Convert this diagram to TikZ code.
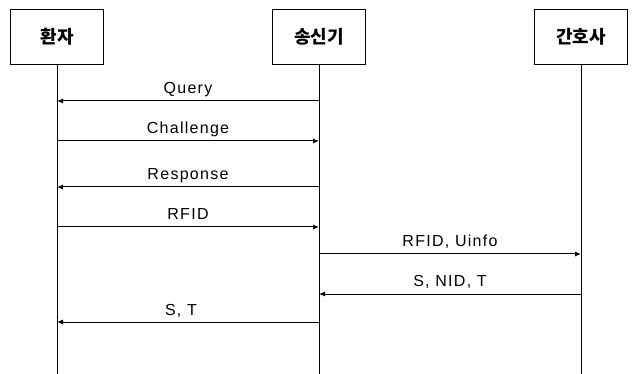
\documentclass[tikz,border=0pt]{standalone}
\usepackage{fontspec}
\setmainfont{Noto Sans CJK KR}
\newfontfamily\labelfont[LetterSpace=8]{Liberation Sans}
\usetikzlibrary{positioning}
\usetikzlibrary{arrows.meta}

\begin{document}
\begin{tikzpicture}[x=1pt,y=-1pt,
        actor/.style={draw=black, line width=1.1pt, minimum width=93pt,
            minimum height=55pt, inner sep=0pt, font=\fontsize{18}{21}\selectfont\bfseries},
        lifeline/.style={draw=black, line width=1pt},
        msg/.style={draw=black, line width=1pt, -{Latex[length=6pt,width=5pt]}},
        msglabel/.style={midway, anchor=base, yshift=7pt, inner sep=0pt,
            font=\labelfont\fontsize{16}{18}\selectfont}
    ]
    \useasboundingbox (0,0) rectangle (632,374);

    % participants
    \node[actor] (patient) at (57,37) {환자};
    \node[actor] (sender) at (319,37) {송신기};
    \node[actor] (nurse) at (581,37) {간호사};

    % lifelines
    \coordinate (patientend) at (patient.south |- 0,374);
    \coordinate (senderend) at (sender.south |- 0,374);
    \coordinate (nurseend) at (nurse.south |- 0,374);
    \draw[lifeline] (patient) -- (patientend);
    \draw[lifeline] (sender) -- (senderend);
    \draw[lifeline] (nurse) -- (nurseend);

    % message points
    \coordinate (pa-query) at (patient.south |- 0,101);
    \coordinate (se-query) at (sender.south |- 0,101);
    \coordinate (pa-chal) at (patient.south |- 0,141);
    \coordinate (se-chal) at (sender.south |- 0,141);
    \coordinate (pa-resp) at (patient.south |- 0,187);
    \coordinate (se-resp) at (sender.south |- 0,187);
    \coordinate (pa-rfid) at (patient.south |- 0,227);
    \coordinate (se-rfid) at (sender.south |- 0,227);
    \coordinate (se-uinfo) at (sender.south |- 0,254);
    \coordinate (nu-uinfo) at (nurse.south |- 0,254);
    \coordinate (se-nid) at (sender.south |- 0,294);
    \coordinate (nu-nid) at (nurse.south |- 0,294);
    \coordinate (pa-st) at (patient.south |- 0,322);
    \coordinate (se-st) at (sender.south |- 0,322);

    % messages
    \draw[msg] (se-query) -- node[msglabel] {Query} (pa-query);
    \draw[msg] (pa-chal) -- node[msglabel] {Challenge} (se-chal);
    \draw[msg] (se-resp) -- node[msglabel] {Response} (pa-resp);
    \draw[msg] (pa-rfid) -- node[msglabel] {RFID} (se-rfid);
    \draw[msg] (se-uinfo) -- node[msglabel] {RFID, Uinfo} (nu-uinfo);
    \draw[msg] (nu-nid) -- node[msglabel] {S, NID, T} (se-nid);
    \draw[msg] (se-st) -- node[msglabel, xshift=-7pt] {S, T} (pa-st);
\end{tikzpicture}
\end{document}
